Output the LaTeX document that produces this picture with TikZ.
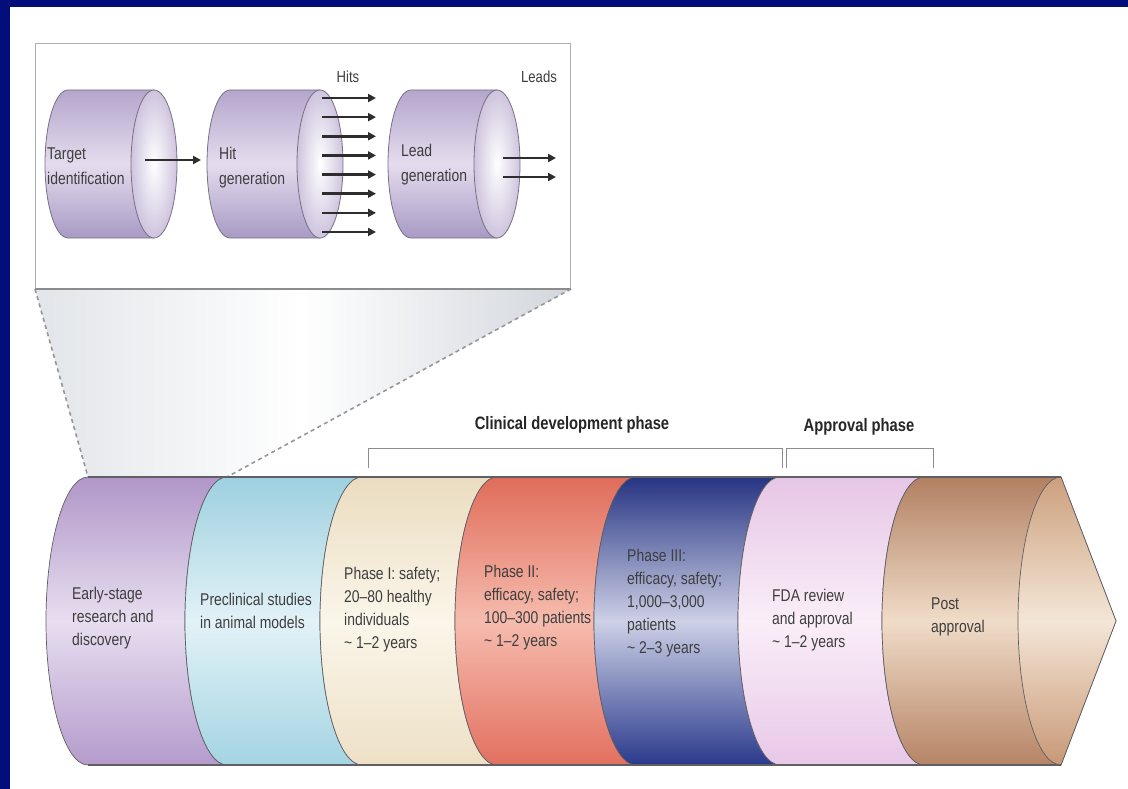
\documentclass[tikz,border=0pt]{standalone}
\usepackage{fontspec}
\setmainfont{Liberation Sans}[FakeStretch=0.82]
\usetikzlibrary{arrows.meta}
\definecolor{navyframe}{RGB}{4,14,122}
\definecolor{txt}{RGB}{62,62,62}
\definecolor{boxgray}{RGB}{175,175,175}
\definecolor{zoomL}{RGB}{226,229,233}
\definecolor{zoomR}{RGB}{210,214,220}
\definecolor{dashgray}{RGB}{150,150,155}
\definecolor{cylT}{RGB}{180,166,204}
\definecolor{cylM}{RGB}{228,220,238}
\definecolor{cylB}{RGB}{168,154,196}
\definecolor{cylF}{RGB}{206,196,222}
\definecolor{cylEdge}{RGB}{120,112,132}
\definecolor{segEdge}{RGB}{95,95,100}
\definecolor{arrowc}{RGB}{45,45,45}
% pipeline colours: top / middle / bottom
\definecolor{puT}{RGB}{176,150,200}\definecolor{puM}{RGB}{232,222,240}\definecolor{puB}{RGB}{180,155,204}
\definecolor{blT}{RGB}{158,208,224}\definecolor{blM}{RGB}{226,242,247}\definecolor{blB}{RGB}{164,212,226}
\definecolor{crT}{RGB}{234,220,192}\definecolor{crM}{RGB}{251,246,234}\definecolor{crB}{RGB}{237,224,198}
\definecolor{reT}{RGB}{224,108,90}\definecolor{reM}{RGB}{246,188,174}\definecolor{reB}{RGB}{226,112,96}
\definecolor{nvT}{RGB}{38,52,130}\definecolor{nvM}{RGB}{205,208,230}\definecolor{nvB}{RGB}{42,58,140}
\definecolor{pkT}{RGB}{230,198,230}\definecolor{pkM}{RGB}{250,238,248}\definecolor{pkB}{RGB}{232,200,232}
\definecolor{tnT}{RGB}{178,128,98}\definecolor{tnM}{RGB}{240,220,200}\definecolor{tnB}{RGB}{182,132,102}
\definecolor{tfT}{RGB}{204,160,126}\definecolor{tfM}{RGB}{244,230,214}\definecolor{tfB}{RGB}{200,152,118}
\newcommand\bodyf{\fontsize{17}{23}\selectfont}
\newcommand\insetf{\fontsize{17}{25}\selectfont}
\newcommand\lblf{\fontsize{18}{22}\selectfont\bfseries}
\newcommand\inCyl[2]{%
  \shadedraw[top color=cylT, bottom color=cylB, middle color=cylM, draw=cylEdge, line width=0.8pt]
    (#1,-90) -- (#2,-90) -- (#2,-238) -- (#1,-238)
    arc[start angle=270, end angle=90, x radius=23, y radius=74] -- cycle;
  \shadedraw[inner color=white, outer color=cylF, draw=cylEdge, line width=0.8pt]
    (#2,-164) ellipse[x radius=23, y radius=74];
}
\newcommand\pipeSeg[5]{%
  \shadedraw[top color=#3, bottom color=#5, middle color=#4, draw=segEdge, line width=0.7pt]
    (#1,-477) arc[start angle=90, end angle=270, x radius=42, y radius=144]
    -- (#2,-765) arc[start angle=270, end angle=90, x radius=42, y radius=144] -- cycle;
}
\tikzset{
  segtext/.style={anchor=west, align=left, inner sep=0pt, text=txt, font=\bodyf},
  insettext/.style={anchor=west, align=left, inner sep=0pt, text=txt, font=\insetf},
  phaselabel/.style={inner sep=0pt, text=black!85, font=\lblf},
  smalllabel/.style={inner sep=0pt, text=txt, font=\fontsize{16}{18}\selectfont},
  zoomline/.style={draw=dashgray, line width=1.6pt, dash pattern=on 4pt off 3.5pt},
  bracketline/.style={draw=black!45, line width=1pt},
  flow/.style={draw=arrowc, line width=2.6pt, -{Triangle[length=8pt,width=8pt]}}
}
\begin{document}
\begin{tikzpicture}[x=1pt,y=1pt]
\useasboundingbox (0,0) rectangle (1128,-789);
\fill[white] (0,0) rectangle (1128,-789);
\fill[navyframe] (0,0) rectangle (1128,-7);
\fill[navyframe] (0,0) rectangle (10,-789);

% named anchor points
\coordinate (pipeTL) at (88,-477);
\coordinate (pipeTR2) at (227,-477);

% inset frame
\node[draw=boxgray, line width=1pt, fill=white, minimum width=535pt, minimum height=245pt,
      anchor=north west, inner sep=0pt] (inset) at (35,-43) {};

% zoom funnel
\shade[left color=zoomL, right color=zoomR, middle color=white]
  (inset.south west) -- (inset.south east) -- (pipeTR2) -- (pipeTL) -- cycle;
\draw[zoomline] (inset.south west) -- (pipeTL);
\draw[zoomline] (inset.south east) -- (pipeTR2);
\draw[draw=black!45, line width=1.2pt] (inset.south west) -- (inset.south east);

% inset cylinders
\inCyl{68}{154}
\inCyl{230}{320}
\inCyl{411}{497}

\node[insettext] (tgt) at (47,-166) {Target\\identification};
\node[insettext] (hitg) at (219,-168) {Hit\\generation};
\node[insettext] (leadg) at (401,-165) {Lead\\generation};

\coordinate (tgtOut) at (145,-160);
\coordinate (hitIn) at (201,-160);
\draw[flow] (tgtOut) -- (hitIn);

\foreach \k in {0,...,7} {
  \coordinate (hs\k) at (322,{-98-19.14*\k});
  \coordinate (he\k) at (376,{-98-19.14*\k});
  \draw[flow] (hs\k) -- (he\k);
}
\coordinate (ls1) at (503,-158); \coordinate (le1) at (556,-158);
\coordinate (ls2) at (503,-177); \coordinate (le2) at (556,-177);
\draw[flow] (ls1) -- (le1);
\draw[flow] (ls2) -- (le2);

\node[smalllabel] (hitslbl) at (348,-77) {Hits};
\node[smalllabel] (leadslbl) at (539,-77) {Leads};

% brackets
\draw[bracketline] (368,-468) -- (368,-448) -- (782,-448) -- (782,-468);
\draw[bracketline] (786,-468) -- (786,-448) -- (933,-448) -- (933,-468);
\node[phaselabel] (clin) at (572,-425) {Clinical development phase};
\node[phaselabel] (appr) at (859,-427) {Approval phase};

% pipeline segments
\pipeSeg{88}{227}{puT}{puM}{puB}
\pipeSeg{227}{362}{blT}{blM}{blB}
\pipeSeg{362}{497}{crT}{crM}{crB}
\pipeSeg{497}{636}{reT}{reM}{reB}
\pipeSeg{636}{780}{nvT}{nvM}{nvB}
\pipeSeg{780}{924}{pkT}{pkM}{pkB}
\shadedraw[top color=tnT, bottom color=tnB, middle color=tnM, draw=segEdge, line width=0.7pt]
  (924,-477) arc[start angle=90, end angle=270, x radius=42, y radius=144]
  -- (1061,-765) -- (1116,-621) -- (1061,-477) -- cycle;
\shadedraw[top color=tfT, bottom color=tfB, middle color=tfM, draw=segEdge, line width=0.7pt]
  (1061,-477) arc[start angle=90, end angle=270, x radius=43, y radius=144]
  -- (1116,-621) -- cycle;
\draw[segEdge, line width=1.1pt] (88,-477) -- (1061,-477);
\draw[segEdge, line width=1.1pt] (88,-765) -- (1061,-765);

% segment texts
\node[segtext] (s1) at (72,-618) {Early-stage\\research and\\discovery};
\node[segtext] (s2) at (200,-611) {Preclinical studies\\in animal models};
\node[segtext] (s3) at (344,-610) {Phase I: safety;\\20–80 healthy\\individuals\\\textasciitilde\ 1–2 years};
\node[segtext] (s4) at (484,-608) {Phase II:\\efficacy, safety;\\100–300 patients\\\textasciitilde\ 1–2 years};
\node[segtext] (s5) at (627,-603) {Phase III:\\efficacy, safety;\\1,000–3,000\\patients\\\textasciitilde\ 2–3 years};
\node[segtext] (s6) at (772,-620) {FDA review\\and approval\\\textasciitilde\ 1–2 years};
\node[segtext] (s7) at (931,-617) {Post\\approval};
\end{tikzpicture}
\end{document}
